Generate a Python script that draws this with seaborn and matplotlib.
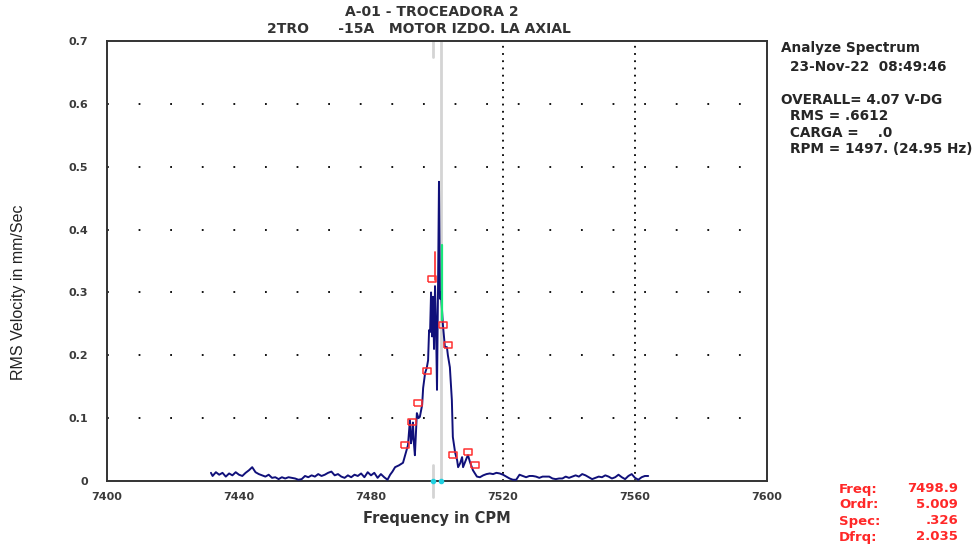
import numpy as np
import pandas as pd
import matplotlib
matplotlib.use("Agg")
import matplotlib.pyplot as plt
import seaborn as sns

# spectrum (CPM, mm/s)
freq = [7431.5, 7432, 7433, 7434, 7435, 7436, 7437, 7438, 7439, 7440, 7441, 7442, 7443, 7444,
        7445, 7446, 7447, 7448, 7449, 7450, 7451, 7452, 7453, 7454, 7455, 7456, 7457, 7458,
        7459, 7460, 7461, 7462, 7463, 7464, 7465, 7466, 7467, 7468, 7469, 7470, 7471, 7472,
        7473, 7474, 7475, 7476, 7477, 7478, 7479, 7480, 7481, 7482, 7483, 7484, 7485,
        7485.8, 7486.5, 7487.3, 7488.5, 7489.7, 7490.6, 7491.2, 7491.8, 7492.1, 7492.4, 7492.7,
        7493.0, 7493.3, 7493.9, 7494.4, 7494.8, 7495.5, 7495.8, 7496.4, 7496.9, 7497.3, 7497.6,
        7497.9, 7498.2, 7498.5, 7498.8, 7499.1, 7499.4, 7499.7, 7500.0, 7500.3, 7500.6, 7500.9,
        7501.2, 7501.8, 7502.4, 7503.0, 7503.3, 7503.9, 7504.5, 7504.8, 7505.5, 7506.1, 7506.4,
        7507.0, 7507.6, 7507.9, 7508.5, 7509.1, 7509.4, 7510.0, 7510.9, 7511.5, 7512.1,
        7513, 7514, 7515, 7516, 7517, 7518, 7519, 7520, 7521, 7522, 7523, 7524, 7525, 7526,
        7527, 7528, 7529, 7530, 7531, 7532, 7533, 7534, 7535, 7536, 7537, 7538, 7539, 7540,
        7541, 7542, 7543, 7544, 7545, 7546, 7547, 7548, 7549, 7550, 7551, 7552, 7553, 7554,
        7555, 7556, 7557, 7558, 7559, 7560, 7561, 7562, 7563, 7564]
amp = [0.013, 0.008, 0.014, 0.010, 0.013, 0.007, 0.012, 0.009, 0.014, 0.010, 0.008, 0.013, 0.017, 0.022,
       0.014, 0.011, 0.009, 0.007, 0.010, 0.005, 0.006, 0.003, 0.006, 0.004, 0.006, 0.005, 0.004, 0.002,
       0.003, 0.008, 0.006, 0.009, 0.007, 0.011, 0.008, 0.010, 0.013, 0.015, 0.009, 0.011, 0.007, 0.005,
       0.009, 0.006, 0.010, 0.008, 0.012, 0.006, 0.014, 0.009, 0.013, 0.005, 0.011, 0.006, 0.002,
       0.010, 0.015, 0.022, 0.025, 0.029, 0.046, 0.057, 0.097, 0.060, 0.068, 0.093,
       0.060, 0.041, 0.108, 0.100, 0.102, 0.121, 0.148, 0.172, 0.180, 0.192, 0.240,
       0.237, 0.300, 0.230, 0.293, 0.210, 0.310, 0.250, 0.145, 0.300, 0.476, 0.290,
       0.300, 0.248, 0.213, 0.213, 0.200, 0.181, 0.129, 0.070, 0.045, 0.033, 0.022,
       0.028, 0.038, 0.022, 0.030, 0.038, 0.041, 0.030, 0.017, 0.012, 0.007,
       0.006, 0.009, 0.011, 0.012, 0.011, 0.013, 0.012, 0.010, 0.007, 0.004, 0.002, 0.002, 0.010, 0.008,
       0.006, 0.008, 0.008, 0.007, 0.005, 0.007, 0.007, 0.007, 0.004, 0.003, 0.004, 0.004, 0.007, 0.005,
       0.007, 0.009, 0.007, 0.011, 0.009, 0.006, 0.003, 0.005, 0.007, 0.006, 0.009, 0.007, 0.004, 0.006,
       0.010, 0.006, 0.003, 0.008, 0.011, 0.005, 0.002, 0.006, 0.008, 0.008]

# peak markers
mark_freq = [7490.3, 7492.4, 7494.2, 7497.0, 7498.5, 7501.8, 7503.3, 7504.8, 7509.4, 7511.5]
mark_amp = [0.057, 0.094, 0.124, 0.175, 0.321, 0.248, 0.216, 0.041, 0.046, 0.025]

cursor_freq = 7498.9
ref_freq = 7501.2

xticks = [7400, 7440, 7480, 7520, 7560, 7600]
yticks = [0, 0.1, 0.2, 0.3, 0.4, 0.5, 0.6, 0.7]
ytick_labels = ["0", "0.1", "0.2", "0.3", "0.4", "0.5", "0.6", "0.7"]

title1 = "A-01 - TROCEADORA 2"
title2 = "2TRO      -15A   MOTOR IZDO. LA AXIAL"
info_lines = ["Analyze Spectrum", "23-Nov-22  08:49:46",
              "OVERALL= 4.07 V-DG", "RMS = .6612", "CARGA =    .0",
              "RPM = 1497. (24.95 Hz)"]
info_indent = [0, 1, 0, 1, 1, 1]
cur_labels = ["Freq:", "Ordr:", "Spec:", "Dfrq:"]
cur_values = ["7498.9", "5.009", ".326", "2.035"]

sns.set_style("white")
plt.rcParams['font.family'] = ['DejaVu Sans']
txt = dict(family="DejaVu Sans", fontweight="bold")

df = pd.DataFrame({"freq": freq, "amp": amp})

fig = plt.figure(figsize=(9.8, 5.44), dpi=100)
ax = fig.add_axes([107/980, 1 - 481/544, 660/980, 440/544])

# dotted grid rows and columns
for yv in yticks[1:-1]:
    ax.axhline(yv, color="black", lw=1.3, linestyle=(0, (1, 16.5)), zorder=1)
for xv in [7520, 7560]:
    ax.axvline(xv, color="black", lw=1.3, linestyle=(0, (1, 3)), zorder=1)

# cursor lines
ax.axvline(ref_freq, color="#d4d4d4", lw=2, zorder=1)
ax.plot([cursor_freq, cursor_freq], [0.675, 0.7], color="#d4d4d4", lw=2, zorder=1)
ax.plot([cursor_freq, cursor_freq], [-0.025, 0.025], color="#d4d4d4", lw=2, zorder=1, clip_on=False)

sns.lineplot(data=df, x="freq", y="amp", ax=ax, color="#10107a", lw=1.4, zorder=3)

ax.plot([7501.5, 7501.5], [0.256, 0.375], color="#19e67a", lw=1.6, zorder=4)
ax.plot([7499.3, 7499.3], [0.32, 0.365], color="#ff3b3b", lw=1.3, zorder=4)

rect = [(-1.5, -1), (1.5, -1), (1.5, 1), (-1.5, 1), (-1.5, -1)]
ax.plot(mark_freq, mark_amp, linestyle="none", marker=rect, markersize=6,
        markerfacecolor="none", markeredgecolor="#ff3030", markeredgewidth=1.1, zorder=5)
ax.plot([cursor_freq, ref_freq], [0, 0], linestyle="none", marker="o", markersize=3,
        color="#20d0e0", zorder=6, clip_on=False)

ax.set_xlim(7400, 7600)
ax.set_ylim(0, 0.7)
ax.set_xticks(xticks)
ax.set_xticklabels([str(v) for v in xticks], **txt)
ax.set_yticks(yticks)
ax.set_yticklabels(ytick_labels, **txt)
ax.tick_params(axis="y", direction="inout", length=11, width=1.3, labelsize=8, pad=8, colors="#3a3a3a")
ax.tick_params(axis="x", direction="in", length=3, width=1.3, labelsize=8, pad=8, colors="#3a3a3a")
for s in ax.spines.values():
    s.set_color("#333333")
    s.set_linewidth(1.4)

ax.set_xlabel("")
ax.set_ylabel("")
fig.text(437/980, 1 - 519/544, "Frequency in CPM", ha="center", va="center",
         fontsize=10.5, color="#333333", **txt)
fig.text(18/980, 1 - 292/544, "RMS Velocity in mm/Sec", ha="center", va="center",
         rotation=90, fontsize=11.5, color="#222222", family="Liberation Sans")

fig.text(432/980, 1 - 12/544, title1, ha="center", va="center", fontsize=10, color="#333333", **txt)
fig.text(419/980, 1 - 29/544, title2, ha="center", va="center", fontsize=10, color="#333333", **txt)

info_y = [48, 67, 100, 116, 133, 149]
for line, yy, ind in zip(info_lines, info_y, info_indent):
    fig.text((781 + 9 * ind)/980, 1 - yy/544, line, ha="left", va="center",
             fontsize=9.8, color="#262626", **txt)

for i, (lab, val) in enumerate(zip(cur_labels, cur_values)):
    yy = 1 - (489 + i * 16)/544
    fig.text(839/980, yy, lab, ha="left", va="center", fontsize=9.5, color="#ff2828", **txt)
    fig.text(958/980, yy, val, ha="right", va="center", fontsize=9.5, color="#ff2828", **txt)

fig.savefig("out.png", dpi=100)
